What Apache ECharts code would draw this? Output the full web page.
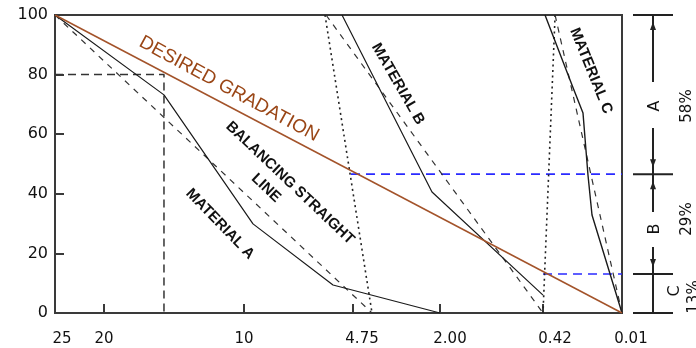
<!DOCTYPE html>
<html><head><meta charset="utf-8">
<script src="https://cdn.jsdelivr.net/npm/echarts@6/dist/echarts.min.js"></script>
<style>html,body{margin:0;padding:0;background:#fff}#c{width:696px;height:348px}</style>
</head><body><div id="c"></div>
<script>
// x: chart units along the sieve-size axis (0 = 25 at left, 100 = 0.01 at right)
// y: percent passing
const sieveLabels = ['25', '20', '10', '4.75', '2.00', '0.42', '0.01'];
const sieveTickAt = [0, 8.64, 33.33, 52.56, 67.90, 86.07, 100];

const desiredX = [0, 100];
const desiredY = [100, 0];
const matAX = [0, 19.22, 34.92, 49.03, 67.90];
const matAY = [100, 73.2, 29.9, 9.4, 0];
const lineAX = [0, 55.91];
const lineAY = [100, 0];
const matBX = [50.62, 66.49, 86.07];
const matBY = [100, 40.6, 6.0];
const lineBX = [47.80, 86.07];
const lineBY = [100, 0];
const matCX = [86.42, 91.18, 93.12, 94.0, 94.71, 100];
const matCY = [100, 76.5, 67.1, 46.3, 32.9, 0];
const lineCX = [88.2, 100];
const lineCY = [100, 0];
const joinABX = [47.62, 55.91];
const joinABY = [100, 0];
const joinBCX = [88.2, 86.07];
const joinBCY = [100, 0];
const guide80X = [0, 19.22, 19.22];
const guide80Y = [80, 80, 0];
const splitUpperX = [52.2, 100];
const splitUpperY = [46.6, 46.6];
const splitLowerX = [86.07, 100];
const splitLowerY = [13.1, 13.1];
const bandLimits = [100, 46.6, 13.1, 0];
const bandNames = ['A', 'B', 'C'];
const bandPercents = ['58%', '29%', '13%'];

function pairs(xs, ys) { return xs.map((x, i) => [x, ys[i]]); }

const labelShift = [7, 0, 0, 9, 10, 12, 9];
const rich = {};
labelShift.forEach((s, i) => {
  rich['s' + i] = { fontFamily: 'DejaVu Sans', fontSize: 15, color: '#111', padding: [0, 0, 0, 2 * s] };
});

function mkLine(name, xs, ys, color, width, type, z) {
  return {
    name, type: 'line', data: pairs(xs, ys), showSymbol: false, symbol: 'none',
    silent: true, animation: false, z: z || 2,
    lineStyle: { color, width, type: type || 'solid' }
  };
}

const chart = echarts.init(document.getElementById('c'), null, { renderer: 'canvas', width: 696, height: 348 });
chart.setOption({
  animation: false,
  backgroundColor: '#fff',
  grid: { left: 55, right: 74, top: 15, bottom: 35, show: true, borderColor: '#3a3a3a', borderWidth: 2, backgroundColor: 'transparent' },
  xAxis: {
    type: 'value', min: 0, max: 100,
    axisLine: { show: true, lineStyle: { color: '#3a3a3a', width: 2 } },
    axisTick: { show: true, inside: true, length: 9, customValues: sieveTickAt, lineStyle: { color: '#3a3a3a', width: 2 } },
    axisLabel: {
      customValues: sieveTickAt, margin: 19, hideOverlap: false, showMinLabel: true, showMaxLabel: true,
      formatter: function (v) {
        let best = 0;
        sieveTickAt.forEach((t, i) => { if (Math.abs(t - v) < Math.abs(sieveTickAt[best] - v)) best = i; });
        return '{s' + best + '|' + sieveLabels[best] + '}';
      },
      rich: rich
    },
    splitLine: { show: false }
  },
  yAxis: {
    type: 'value', min: 0, max: 100, interval: 20,
    axisLine: { show: true, lineStyle: { color: '#3a3a3a', width: 2 } },
    axisTick: { show: true, inside: true, length: 9, lineStyle: { color: '#3a3a3a', width: 2 } },
    axisLabel: { fontFamily: 'DejaVu Sans', fontSize: 16, color: '#111', margin: 7 },
    splitLine: { show: false }
  },
  series: [
    mkLine('split upper', splitUpperX, splitUpperY, '#2a2aff', 1.6, [9, 6]),
    mkLine('split lower', splitLowerX, splitLowerY, '#2a2aff', 1.6, [9, 6]),
    mkLine('guide 80', guide80X, guide80Y, '#333', 1.5, [8, 5]),
    mkLine('join AB', joinABX, joinABY, '#222', 1.6, [2, 3.5]),
    mkLine('join BC', joinBCX, joinBCY, '#222', 1.6, [2, 3.5]),
    mkLine('line A', lineAX, lineAY, '#333', 1.2, [6, 6]),
    mkLine('line B', lineBX, lineBY, '#333', 1.2, [6, 6]),
    mkLine('line C', lineCX, lineCY, '#333', 1.2, [6, 6]),
    mkLine('Material A', matAX, matAY, '#1a1a1a', 1.2, 'solid', 3),
    mkLine('Material B', matBX, matBY, '#1a1a1a', 1.2, 'solid', 3),
    mkLine('Material C', matCX, matCY, '#1a1a1a', 1.4, 'solid', 3),
    mkLine('Desired gradation', desiredX, desiredY, '#a3532a', 1.5, 'solid', 4)
  ]
});

const deg = Math.PI / 180;
const txt = (text, x, y, rotDeg, font, fill) => ({
  type: 'text', x, y, rotation: rotDeg * deg, silent: true, z: 10,
  style: { text, font, fill, textAlign: 'center', textVerticalAlign: 'middle', align: 'center', verticalAlign: 'middle' }
});
const boldF = 'bold 15px "Liberation Sans", Arial, sans-serif';
const elements = [
  txt('DESIRED GRADATION', 229, 89, -28.5, '19px "Liberation Sans", Arial, sans-serif', '#9a4616'),
  txt('BALANCING STRAIGHT', 290, 183, -43.5, boldF, '#111'),
  txt('LINE', 266, 188, -43.5, boldF, '#111'),
  txt('MATERIAL A', 220, 224, -46, boldF, '#111'),
  txt('MATERIAL B', 398, 84, -60, boldF, '#111'),
  txt('MATERIAL C', 591, 71, -68, boldF, '#111')
];

// right-hand bracket
const ys = bandLimits.map(v => chart.convertToPixel({ yAxisIndex: 0 }, v));
const xL = 633, xR = 673, xM = 653;
const stroke = { stroke: '#222', lineWidth: 2 };
ys.forEach(y => elements.push({ type: 'line', silent: true, shape: { x1: xL, y1: y, x2: xR, y2: y }, style: stroke }));
const segs = [[ys[0], 82], [128, ys[1]], [ys[1], 212], [247, ys[2]], [ys[2], ys[3]]];
segs.forEach(s => elements.push({ type: 'line', silent: true, shape: { x1: xM, y1: s[0], x2: xM, y2: s[1] }, style: stroke }));
function arrow(yTick, dir) { // dir -1: pointing up, +1: pointing down
  const tip = yTick - dir * 7, base = tip - dir * 8;
  return { type: 'polygon', silent: true, shape: { points: [[xM, tip], [xM - 3, base], [xM + 3, base]] }, style: { fill: '#222' } };
}
elements.push(arrow(ys[0], -1), arrow(ys[1], 1), arrow(ys[1], -1), arrow(ys[2], 1));
const letterY = [106, 229, 291];
const letterX = [655, 655, 675];
const pctY = [106, 219, 297];
const pctX = [687, 687, 694];
bandNames.forEach((n, i) => {
  elements.push(txt(n, letterX[i], letterY[i], 90, '16px "DejaVu Sans", sans-serif', '#111'));
  elements.push(txt(bandPercents[i], pctX[i], pctY[i], 90, '15px "DejaVu Sans", sans-serif', '#111'));
});
chart.setOption({ graphic: { elements } });
</script>
</body></html>
